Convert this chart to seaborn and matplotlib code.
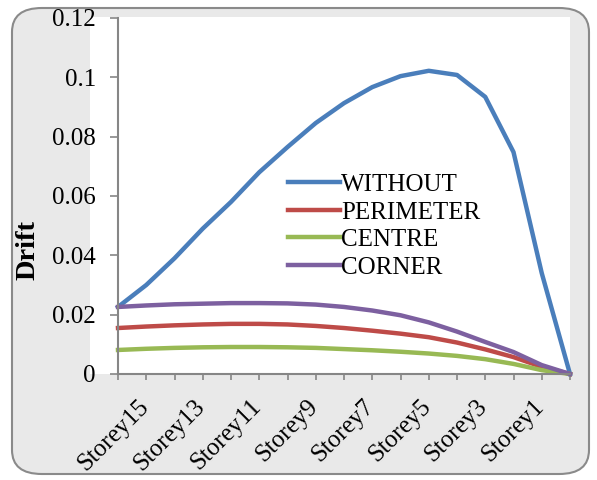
import seaborn as sns
import matplotlib.pyplot as plt
import matplotlib.patches as mpatches
import matplotlib.transforms as mtrans
import pandas as pd

# storeys from top (Storey16) down to base
storeys = ['Storey16', 'Storey15', 'Storey14', 'Storey13', 'Storey12', 'Storey11', 'Storey10',
           'Storey9', 'Storey8', 'Storey7', 'Storey6', 'Storey5', 'Storey4', 'Storey3',
           'Storey2', 'Storey1', 'Base']
without = [0.0226, 0.0300, 0.0390, 0.0490, 0.0580, 0.0680, 0.0765, 0.0846, 0.0913,
           0.0967, 0.1004, 0.1022, 0.1008, 0.0934, 0.0748, 0.0340, 0.0]
perimeter = [0.0155, 0.0160, 0.0164, 0.0167, 0.0169, 0.0169, 0.0167, 0.0162, 0.0155,
             0.0146, 0.0136, 0.0124, 0.0106, 0.0083, 0.0057, 0.0024, 0.0]
centre = [0.0081, 0.0085, 0.0088, 0.0090, 0.0091, 0.0091, 0.0090, 0.0088, 0.0084,
          0.0080, 0.0075, 0.0069, 0.0061, 0.0050, 0.0034, 0.0013, 0.0]
corner = [0.0226, 0.0231, 0.0235, 0.0237, 0.0239, 0.0239, 0.0238, 0.0234, 0.0226,
          0.0214, 0.0198, 0.0174, 0.0143, 0.0108, 0.0074, 0.0030, 0.0]

names = ['WITHOUT', 'PERIMETER', 'CENTRE', 'CORNER']
colors = ['#4A7EBB', '#BE4B48', '#98B954', '#7D60A0']

rows = []
for nm, vals in zip(names, [without, perimeter, centre, corner]):
    for i, v in enumerate(vals):
        rows.append({'pos': i, 'Drift': v, 'case': nm})
df = pd.DataFrame(rows)

plt.rcParams['font.family'] = ['Liberation Serif', 'DejaVu Serif']

fig = plt.figure(figsize=(5.97, 4.8), dpi=100)
fig.patch.set_facecolor('white')
# chart area background with rounded border
bg = mpatches.FancyBboxPatch((12 / 597, 6 / 480), 577 / 597, 466 / 480,
                             boxstyle='round,pad=0,rounding_size=0.05',
                             transform=fig.transFigure, facecolor='#e9e9e9',
                             edgecolor='#8a8a8a', linewidth=1.5, zorder=-2)
fig.patches.append(bg)
white = mpatches.Rectangle((90 / 597, 1 - 374 / 480), 480 / 597, 357 / 480,
                           transform=fig.transFigure, facecolor='white',
                           edgecolor='none', zorder=-1)
fig.patches.append(white)

ax = fig.add_axes([118 / 597, 1 - 374 / 480, 452 / 597, 356 / 480])
ax.set_zorder(1)
ax.set_facecolor('white')

sns.lineplot(data=df, x='pos', y='Drift', hue='case', palette=colors,
             linewidth=3.2, ax=ax, clip_on=False)

ax.set_xlim(0, 16)
ax.set_ylim(0, 0.12)
ax.set_xticks(range(len(storeys)))
ax.set_xticklabels([s if i % 2 == 1 and s != 'Base' else '' for i, s in enumerate(storeys)],
                   rotation=45, ha='right', va='baseline', rotation_mode='anchor',
                   fontsize=18)
yt = [0, 0.02, 0.04, 0.06, 0.08, 0.1, 0.12]
ax.set_yticks(yt)
ax.set_yticklabels(['0', '0.02', '0.04', '0.06', '0.08', '0.1', '0.12'], fontsize=18)
ax.tick_params(axis='y', direction='out', length=5.5, color='#868686', width=1.2, pad=10.5)
ax.tick_params(axis='x', direction='out', length=4, color='#868686', width=1.2, pad=20)
# nudge the rotated labels a little to the right
shift = mtrans.ScaledTranslation(3 / 100, 0, fig.dpi_scale_trans)
for lab in ax.get_xticklabels():
    lab.set_transform(lab.get_transform() + shift)

for s in ['top', 'right']:
    ax.spines[s].set_visible(False)
for s in ['left', 'bottom']:
    ax.spines[s].set_color('#868686')
    ax.spines[s].set_linewidth(1.5)

ax.set_xlabel('')
ax.set_ylabel('Drift', fontsize=20.5, fontweight='bold')
ax.yaxis.set_label_coords(-0.171, 0.348)

ax.legend(loc='upper left', bbox_to_anchor=(0.353, 0.5906), frameon=False,
          fontsize=18, handlelength=2.1, handletextpad=0.05, labelspacing=0.2,
          borderaxespad=0)

fig.savefig('out.png', dpi=100, facecolor=fig.get_facecolor())
